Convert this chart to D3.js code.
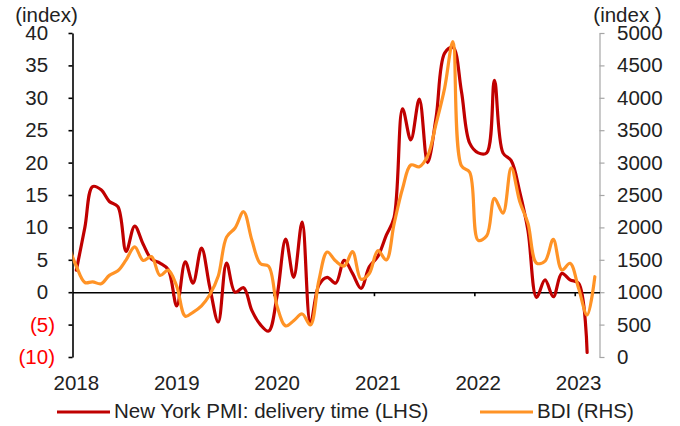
<!DOCTYPE html>
<html>
<head>
<meta charset="utf-8">
<script src="https://cdn.jsdelivr.net/npm/d3@7"></script>
<style>
  html, body { margin: 0; padding: 0; background: #fff; }
  svg { display: block; font-family: "Liberation Sans", Arial, sans-serif; }
</style>
</head>
<body>
<svg id="chart" width="680" height="426"></svg>
<script>
// Monthly series: New York Fed PMI delivery-time index (left axis) and Baltic Dry Index (right axis)
const pmiStart = "2018-01";   // first month of the PMI series
const bdiStart = "2017-12";   // first month of the BDI series

const pmiDelivery = [
  3.4, 10, 16.3, 15.8, 14.0, 13.2, 6.3, 10.2, 7.4, 5.1, 4.5, 3.5,
  -2.1, 4.7, 1.4, 6.8, 0.8, -4.6, 4.5, 0, 0.7, -2.8, -5, -6,
  -0.5, 8.2, 2.3, 10.8, -4.8, 1.1, 2.3, 1.4, 4.9, 2.9, 0.6, 3.9,
  5.5, 8.8, 11.5, 28.3, 23.5, 29.8, 20, 27, 36.9, 37.8, 31, 23,
  21.5, 21.5, 32.7, 21.5, 20.3, 15.5, 9.5, -0.8, 1.9, -0.7, 2.9, 1.9,
  1.4, -9.3
];

const bdi = [
  1750,
  1400, 1150, 1160, 1130, 1260, 1330, 1500, 1700, 1490, 1550, 1260, 1340,
  1090, 630, 690, 790, 960, 1250, 1850, 1990, 2242, 1806, 1440, 1400,
  780, 480, 560, 664, 494, 1188, 1620, 1480, 1404, 1625, 1200, 1290,
  1640, 1497, 2050, 2600, 2963, 2937, 3100, 3600, 4150, 4866, 2950, 2850,
  1800, 1870, 2450, 2220, 2920, 2400, 2060, 1450, 1480, 1816, 1343, 1446,
  1060, 648, 1239
];

const yearLabels = ["2018", "2019", "2020", "2021", "2022", "2023"];
const leftTicks = [-10, -5, 0, 5, 10, 15, 20, 25, 30, 35, 40];
const rightTicks = [0, 500, 1000, 1500, 2000, 2500, 3000, 3500, 4000, 4500, 5000];
const seriesNames = ["New York PMI: delivery time (LHS)", "BDI (RHS)"];
const axisTitles = ["(index)", "(index )"];

const colors = { pmi: "#C00000", bdi: "#FF9326", text: "#222", negative: "#FF0000", rightAxis: "#A6A6A6" };
const fontSize = 20.5;

// Each monthly observation sits in the middle of its month
const parseMonth = d3.timeParse("%Y-%m");
const midMonth = (start, i) => d3.timeDay.offset(d3.timeMonth.offset(parseMonth(start), i), 14);
const pmiData = pmiDelivery.map((v, i) => ({ date: midMonth(pmiStart, i), value: v }));
const bdiData = bdi.map((v, i) => ({ date: midMonth(bdiStart, i), value: v }));

const svg = d3.select("#chart");
const plot = { left: 72.5, right: 599.5, top: 33, bottom: 357 };

const x = d3.scaleTime()
  .domain([new Date(2018, 0, 1), new Date(2023, 3, 1)])
  .range([plot.left, plot.right]);
const yL = d3.scaleLinear().domain([-10, 40]).range([plot.bottom, plot.top]);
const yR = d3.scaleLinear().domain([0, 5000]).range([plot.bottom, plot.top]);

svg.append("defs").append("clipPath").attr("id", "plot-clip")
  .append("rect")
  .attr("x", plot.left).attr("y", 0)
  .attr("width", plot.right - plot.left).attr("height", 426);

// Left axis (LHS): negatives in parentheses and red
const leftAxis = svg.append("g")
  .attr("transform", `translate(${plot.left},0)`)
  .call(d3.axisLeft(yL).tickValues(leftTicks).tickSize(4).tickSizeOuter(0).tickPadding(13.5)
    .tickFormat(d => d < 0 ? `(${-d})` : `${d}`));
leftAxis.select(".domain").attr("stroke", "#000").attr("stroke-width", 1.6);
leftAxis.selectAll(".tick line").attr("stroke", "#000").attr("stroke-width", 1.6);
leftAxis.selectAll(".tick text")
  .attr("font-size", fontSize)
  .attr("font-family", "Liberation Sans, Arial, sans-serif")
  .attr("dy", "0.32em")
  .attr("fill", d => d < 0 ? colors.negative : colors.text)
  .each(function (d) {
    // positive numbers keep room for the closing parenthesis so digits line up
    if (d >= 0) d3.select(this).append("tspan").attr("fill-opacity", 0).text(")");
  });

// Right axis (RHS)
const rightAxis = svg.append("g")
  .attr("transform", `translate(${plot.right},0)`)
  .call(d3.axisRight(yR).tickValues(rightTicks).tickSize(5).tickSizeOuter(0).tickPadding(12.5)
    .tickFormat(d3.format("d")));
rightAxis.select(".domain").attr("stroke", colors.rightAxis).attr("stroke-width", 1.2);
rightAxis.selectAll(".tick line").attr("stroke", colors.rightAxis).attr("stroke-width", 1.2);
rightAxis.selectAll(".tick text")
  .attr("font-size", fontSize)
  .attr("font-family", "Liberation Sans, Arial, sans-serif")
  .attr("dy", "0.32em")
  .attr("fill", colors.text);

// Zero line with yearly tick marks
const yearTicks = d3.timeYear.range(new Date(2019, 0, 1), new Date(2023, 1, 1));
const zeroAxis = svg.append("g")
  .attr("transform", `translate(0,${yL(0)})`)
  .call(d3.axisBottom(x).tickValues(yearTicks).tickSize(4).tickSizeOuter(0).tickFormat(""));
zeroAxis.select(".domain").attr("stroke", "#000").attr("stroke-width", 1.6);
zeroAxis.selectAll(".tick line").attr("stroke", "#000").attr("stroke-width", 1.6);

// Year labels, centred on mid-January
svg.append("g").selectAll("text")
  .data(yearLabels)
  .join("text")
  .attr("x", d => x(new Date(+d, 0, 15)))
  .attr("y", 389.5)
  .attr("text-anchor", "middle")
  .attr("font-size", fontSize)
  .attr("fill", colors.text)
  .text(d => d);

// Axis unit titles
svg.append("text").attr("x", 46.5).attr("y", 22).attr("text-anchor", "middle")
  .attr("font-size", fontSize).attr("fill", colors.text).text(axisTitles[0]);
svg.append("text").attr("x", 627.5).attr("y", 22).attr("text-anchor", "middle")
  .attr("font-size", fontSize).attr("fill", colors.text).text(axisTitles[1]);

// Series
const lineL = d3.line().x(d => x(d.date)).y(d => yL(d.value)).curve(d3.curveCatmullRom.alpha(0.5));
const lineR = d3.line().x(d => x(d.date)).y(d => yR(d.value)).curve(d3.curveCatmullRom.alpha(0.5));

const series = svg.append("g").attr("clip-path", "url(#plot-clip)");
series.append("path").datum(pmiData)
  .attr("d", lineL).attr("fill", "none")
  .attr("stroke", colors.pmi).attr("stroke-width", 3.2)
  .attr("stroke-linejoin", "round").attr("stroke-linecap", "round");
series.append("path").datum(bdiData)
  .attr("d", lineR).attr("fill", "none")
  .attr("stroke", colors.bdi).attr("stroke-width", 3.2)
  .attr("stroke-linejoin", "round").attr("stroke-linecap", "round");

// Legend
const legendItems = [
  { name: seriesNames[0], color: colors.pmi, x0: 57, x1: 110, tx: 114 },
  { name: seriesNames[1], color: colors.bdi, x0: 480, x1: 533, tx: 537 }
];
const legend = svg.append("g");
legend.selectAll("line").data(legendItems).join("line")
  .attr("x1", d => d.x0).attr("x2", d => d.x1)
  .attr("y1", 412).attr("y2", 412)
  .attr("stroke", d => d.color).attr("stroke-width", 3.2);
legend.selectAll("text").data(legendItems).join("text")
  .attr("x", d => d.tx).attr("y", 418)
  .attr("font-size", fontSize).attr("fill", colors.text)
  .text(d => d.name);
</script>
</body>
</html>
